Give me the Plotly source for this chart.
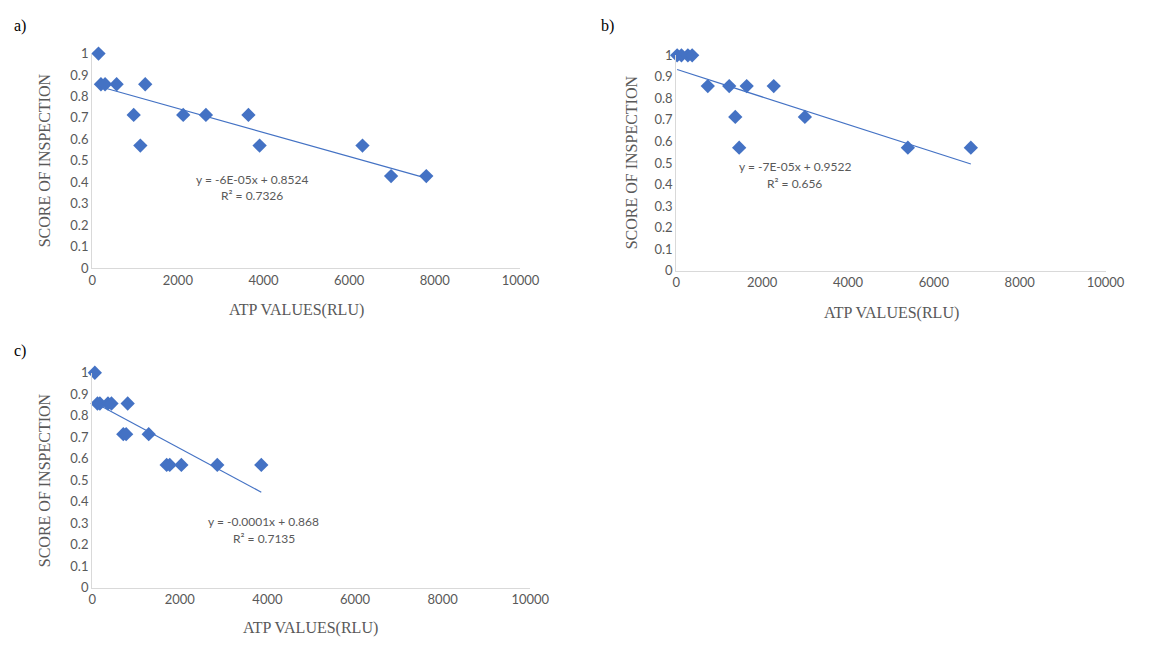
import numpy as np
import plotly.graph_objects as go

# ATP readings (RLU) and inspection scores for the three sampling groups
atp_a = [147, 204, 301, 570, 1238, 969, 1124, 2125, 2655, 3648, 3909, 6311, 6979, 7801]
score_a = [1.0, 0.857, 0.857, 0.857, 0.857, 0.714, 0.571, 0.714, 0.714, 0.714, 0.571, 0.571, 0.429, 0.429]

atp_b = [20, 120, 270, 370, 734, 1233, 1640, 2270, 1374, 2996, 1465, 5395, 6862]
score_b = [1.0, 1.0, 1.0, 1.0, 0.857, 0.857, 0.857, 0.857, 0.714, 0.714, 0.571, 0.571, 0.571]

atp_c = [60, 120, 175, 360, 440, 810, 710, 775, 1290, 1700, 1770, 2035, 2855, 3860]
score_c = [1.0, 0.857, 0.857, 0.857, 0.857, 0.857, 0.714, 0.714, 0.714, 0.571, 0.571, 0.571, 0.571, 0.571]

eq_a = ["y = -6E-05x + 0.8524", "R² = 0.7326"]
eq_b = ["y = -7E-05x + 0.9522", "R² = 0.656"]
eq_c = ["y = -0.0001x + 0.868", "R² = 0.7135"]

x_ticks = [0, 2000, 4000, 6000, 8000, 10000]
x_ticklabels = ["0", "2000", "4000", "6000", "8000", "10000"]
y_ticks = [round(i * 0.1, 1) for i in range(11)]
y_ticklabels = ["0", "0.1", "0.2", "0.3", "0.4", "0.5", "0.6", "0.7", "0.8", "0.9", "1"]

W, H = 1151, 648
BLUE = "#4472C4"
GREY = "#595959"
AXIS = "#d9d9d9"
SERIF = "Liberation Serif, Times New Roman, serif"
SANS = "Lato, Open Sans, sans-serif"

# pixel boxes of each plotting area: left, right, top, bottom
boxes = {
    "a": (90, 527, 46.7, 266.7),
    "b": (686, 1124, 48.5, 269.3),
    "c": (90, 537, 374, 594.3),
}

fig = go.Figure()
panels = [("a", atp_a, score_a, "", ""),
          ("b", atp_b, score_b, "2", "2"),
          ("c", atp_c, score_c, "3", "3")]

layout = {}
for name, xs, ys, xi, yi in panels:
    l, r, t, b = boxes[name]
    xa = "x" + xi
    ya = "y" + yi
    # least-squares linear trendline over the data range
    slope, icpt = np.polyfit(xs, ys, 1)
    tx = [min(xs), max(xs)]
    fig.add_trace(go.Scatter(
        x=tx, y=[slope * v + icpt for v in tx], mode="lines",
        xaxis=xa, yaxis=ya, line=dict(color=BLUE, width=1.2),
        showlegend=False, hoverinfo="skip", cliponaxis=False))
    fig.add_trace(go.Scatter(
        x=xs, y=ys, mode="markers", xaxis=xa, yaxis=ya,
        marker=dict(symbol="diamond", size=11, color=BLUE),
        showlegend=False, hoverinfo="x+y", cliponaxis=False))
    layout["xaxis" + xi] = dict(
        domain=[l / W, r / W], anchor=ya, range=[0, 10000],
        tickvals=x_ticks, ticktext=x_ticklabels, showgrid=False,
        zeroline=False, showline=True, linecolor=AXIS, linewidth=1.3,
        ticks="", tickfont=dict(family=SANS, size=13, color=GREY))
    layout["yaxis" + yi] = dict(
        domain=[1 - b / H, 1 - t / H], anchor=xa, range=[0, 1],
        tickvals=y_ticks, ticktext=y_ticklabels, showgrid=False,
        zeroline=False, showline=True, linecolor=AXIS, linewidth=1.3,
        ticks="", tickfont=dict(family=SANS, size=13, color=GREY))

fig.update_layout(**layout)

ann = []
def txt(x, y, s, size, color, family, angle=0, xanchor="center"):
    ann.append(dict(x=x / W, y=1 - y / H, xref="paper", yref="paper",
                    text=s, showarrow=False, textangle=angle,
                    xanchor=xanchor, yanchor="middle",
                    font=dict(size=size, color=color, family=family)))

# panel letters
txt(8, 18, "a)", 16, "#000000", SERIF, xanchor="left")
txt(607, 18, "b)", 16, "#000000", SERIF, xanchor="left")
txt(8, 352, "c)", 16, "#000000", SERIF, xanchor="left")

# axis titles
txt(41, 156, "SCORE OF INSPECTION", 16, GREY, SERIF, angle=-90)
txt(640, 158, "SCORE OF INSPECTION", 16, GREY, SERIF, angle=-90)
txt(41, 484, "SCORE OF INSPECTION", 16, GREY, SERIF, angle=-90)
txt(298, 310, "ATP VALUES(RLU)", 16, GREY, SERIF)
txt(906, 313, "ATP VALUES(RLU)", 16, GREY, SERIF)
txt(313, 636, "ATP VALUES(RLU)", 16, GREY, SERIF)

# trendline equations
txt(253, 176, eq_a[0], 12, GREY, SANS)
txt(253, 192, eq_a[1], 12, GREY, SANS)
txt(807, 163, eq_b[0], 12, GREY, SANS)
txt(807, 180, eq_b[1], 12, GREY, SANS)
txt(265, 527, eq_c[0], 12, GREY, SANS)
txt(265, 544, eq_c[1], 12, GREY, SANS)

fig.update_layout(
    width=W, height=H, margin=dict(l=0, r=0, t=0, b=0),
    paper_bgcolor="white", plot_bgcolor="white", annotations=ann)

fig.write_html("out.html")
